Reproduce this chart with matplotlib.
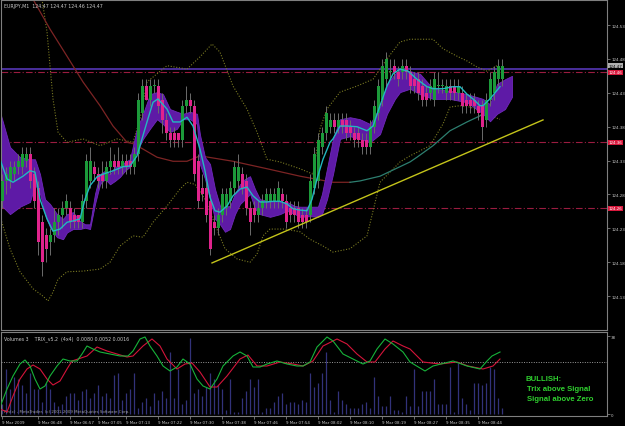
"""MetaTrader style EURJPY M1 chart with TRIX and volumes."""

import matplotlib

matplotlib.use("Agg")
import matplotlib.pyplot as plt

BASE = 124.0  # prices below are pips above 124.00

# candles, one per minute
opens = [27, 30, 30, 31, 32, 32, 33, 34, 31, 29, 24, 22, 21, 22, 24, 25, 26, 26, 25, 25,
         24, 27, 30, 32, 31, 31, 30, 32, 33, 33, 32, 33, 33, 32, 34, 40, 44, 42, 44, 44,
         42, 39, 37, 37, 37, 36, 41, 42, 41, 33, 29, 29, 27, 24, 23, 25, 26, 27, 29, 30,
         31, 30, 26, 26, 25, 26, 27, 27, 27, 27, 28, 27, 26, 26, 26, 25, 25, 25, 29, 30,
         35, 37, 38, 39, 38, 39, 39, 38, 37, 37, 36, 36, 35, 38, 40, 42, 45, 46, 47, 46,
         46, 47, 46, 45, 45, 44, 43, 43, 42, 44, 44, 43, 44, 44, 43, 43, 42, 42, 42, 41,
         41, 39, 42, 43, 45, 45]
highs = [31, 32, 33, 33, 34, 35, 35, 35, 32, 30, 25, 23, 23, 26, 26, 27, 28, 27, 26, 25,
         28, 34, 35, 33, 32, 33, 33, 35, 34, 35, 34, 34, 34, 35, 43, 45, 45, 45, 45, 45,
         43, 40, 38, 38, 37, 42, 44, 43, 42, 34, 31, 30, 28, 25, 26, 29, 29, 30, 33, 34,
         32, 31, 27, 27, 27, 28, 29, 29, 29, 30, 29, 28, 27, 27, 27, 26, 26, 31, 35, 37,
         38, 41, 40, 40, 40, 40, 40, 39, 38, 38, 37, 37, 39, 42, 45, 48, 49, 48, 48, 47,
         48, 48, 47, 46, 46, 45, 44, 45, 46, 46, 45, 45, 45, 45, 45, 44, 43, 43, 43, 42,
         42, 43, 46, 47, 48, 48]
lows = [26, 28, 29, 30, 31, 31, 32, 29, 26, 19, 16, 18, 19, 21, 22, 23, 25, 23, 23, 23,
        23, 26, 29, 30, 29, 29, 29, 31, 31, 31, 31, 31, 31, 31, 33, 39, 42, 41, 43, 40,
        37, 36, 35, 35, 35, 35, 40, 40, 30, 26, 27, 24, 19, 22, 22, 24, 25, 26, 28, 29,
        28, 25, 22, 24, 24, 25, 26, 26, 26, 26, 26, 23, 24, 24, 23, 23, 23, 24, 28, 29,
        34, 36, 37, 37, 37, 37, 36, 36, 35, 35, 34, 34, 34, 37, 39, 41, 44, 45, 45, 44,
        45, 45, 43, 43, 42, 41, 41, 42, 41, 43, 43, 42, 42, 42, 42, 40, 40, 40, 40, 39,
        36, 38, 41, 42, 44, 44]
closes = [30, 31, 32, 32, 33, 34, 34, 30, 27, 21, 18, 20, 22, 24, 25, 26, 27, 24, 24, 24,
          27, 33, 33, 31, 30, 30, 32, 33, 32, 32, 33, 32, 32, 34, 42, 44, 42, 44, 44, 41,
          39, 37, 36, 36, 36, 41, 42, 41, 31, 27, 28, 25, 20, 23, 25, 28, 28, 29, 32, 32,
          29, 26, 24, 25, 26, 27, 28, 28, 28, 29, 27, 24, 25, 25, 24, 24, 24, 30, 34, 36,
          37, 40, 39, 38, 39, 38, 37, 37, 36, 36, 35, 35, 38, 41, 44, 47, 48, 46, 46, 45,
          47, 46, 44, 44, 43, 42, 42, 44, 45, 44, 44, 44, 43, 43, 44, 41, 41, 41, 41, 40,
          38, 42, 45, 46, 47, 47]
volumes = [5, 22, 12, 18, 17, 14, 10, 20, 12, 12, 6, 15, 12, 6, 4, 5, 9, 10, 10, 7,
           11, 12, 8, 10, 14, 9, 10, 8, 19, 20, 7, 10, 12, 20, 3, 6, 8, 4, 10, 7,
           11, 8, 30, 8, 22, 5, 7, 37, 10, 12, 9, 13, 20, 17, 14, 12, 2, 17, 1, 1,
           8, 11, 17, 13, 17, 1, 3, 3, 6, 9, 10, 5, 6, 6, 5, 7, 6, 20, 13, 15,
           20, 30, 7, 1, 11, 7, 5, 3, 3, 3, 5, 6, 3, 18, 9, 4, 4, 9, 2, 2,
           1, 9, 4, 22, 4, 11, 11, 11, 17, 5, 5, 5, 23, 1, 25, 8, 5, 2, 15, 15,
           14, 15, 23, 22, 8, 3]

# fast moving average (cyan)
fast_bar = [-0.5, 1.25, 2.75, 5.25, 7, 8.25, 9.5, 11.25, 12.75, 14.5, 16.25, 17.75, 19.5,
            20.75, 22, 23.75, 25.25, 27.75, 30.25, 32, 33.75, 34.5, 36.25, 37.75, 39,
            41.25, 42.75, 44.5, 46.25, 47.75, 49.5, 50.75, 52, 53.25, 54.5, 56.25, 57.75,
            59.5, 61.25, 62.75, 64.5, 66.25, 67.75, 69.5, 71.25, 72.75, 74.5, 76.25, 77.5,
            78.75, 80.25, 82, 82.75, 84.5, 86.25, 88.75, 91.25, 92.75, 94.5, 96.25, 97.75,
            99.5, 101.5, 103.75, 106.25, 107.75, 110.25, 112.75, 114.5, 116.25, 117.75,
            119.5, 120.25, 122, 124.5]
fast_pip = [33.2, 30.3, 29.8, 30.7, 31.5, 31.3, 27.3, 24.4, 22.6, 22.9, 23.9, 24.1, 24.4,
            27.3, 29.3, 30.6, 31.0, 31.5, 32.1, 32.2, 33.7, 35.2, 38.7, 41.6, 42.1,
            40.6, 38.7, 38.7, 39.4, 38.1, 34.7, 31.5, 27.6, 25.6, 25.4, 26.3, 27.8,
            28.8, 29.1, 27.8, 26.9, 26.9, 27.0, 27.0, 26.6, 25.9, 25.7, 25.6, 27.3,
            30.3, 33.2, 35.7, 36.2, 38.1, 38.1, 38.0, 37.4, 38.1, 41.1, 44.0, 45.8,
            46.5, 46.2, 45.0, 43.9, 43.6, 43.6, 43.9, 43.9, 42.8, 42.1,
            41.1, 41.1, 42.1, 43.9]

# shifted purple band
band_bar = [-0.5, 2, 4.5, 7, 8.25, 9.5, 10.75, 12, 13.75, 15.25, 16.25, 17.75, 19.5, 20.75,
            22, 23.25, 24.5, 25.75, 27, 28.25, 29.5, 30.75, 32, 32.75, 33.75, 35.25, 37,
            38.75, 40.25, 42, 43.75, 45.25, 47, 48.75, 49.5, 50.75, 52, 53.25, 54.5, 55.75,
            57, 58.25, 59.5, 60.75, 62, 63.25, 64.5, 67, 69.5, 71.25, 73.25, 74.5, 77, 79,
            80, 81.25, 82.75, 84.5, 87, 89.5, 92, 94.5, 96.25, 98.25, 99.5, 102, 104.5,
            107.75, 112, 116.25, 120.25, 122, 123.75, 125.75, 127.5]
band_top = [40.2, 35.0, 33.5, 33.2, 33.2, 31.0, 27.3, 26.6, 25.1, 24.4, 25.1, 25.4, 24.1, 23.6,
            23.6, 28.1, 31.0, 31.5, 31.0, 32.1, 32.2, 32.8, 33.2, 35.2, 37.7, 39.9, 42.8,
            43.1, 42.8, 40.6, 40.2, 39.9, 40.2, 39.9, 36.8, 33.5, 32.5, 28.8, 26.3, 26.2,
            26.3, 28.1, 29.5, 30.3, 30.7, 28.8, 27.3, 27.0, 26.9, 26.9, 26.3, 26.2, 26.2, 26.2,
            28.1, 31.8, 36.2, 39.1, 39.4, 39.1, 38.4, 40.9, 44.3, 45.8, 46.5, 46.2, 45.8,
            43.6, 43.3, 42.8, 42.1, 41.3, 44.3, 45.0, 45.5]
band_bot = [26.6, 25.1, 26.2, 26.9, 29.5, 28.1, 25.1, 23.2, 21.7, 21.4, 22.4, 22.9, 22.9, 23.1,
            22.9, 26.6, 29.5, 30.3, 29.5, 30.0, 30.6, 31.5, 32.1, 33.2, 34.4, 36.2, 37.7,
            39.1, 38.4, 37.2, 37.7, 39.1, 39.1, 38.4, 32.4, 30.3, 27.3, 24.4, 23.6, 22.5,
            22.9, 25.1, 26.6, 27.3, 28.1, 25.9, 25.1, 24.7, 25.1, 25.6, 25.1, 24.7, 24.8, 24.7,
            25.1, 27.3, 31.0, 36.2, 36.6, 36.2, 35.7, 36.9, 39.9, 42.1, 43.1, 43.6, 42.8,
            42.1, 42.1, 41.6, 39.9, 38.8, 39.9, 40.6, 42.4]

# bollinger bands (dotted)
upper_bar = [10, 11.25, 12, 12.75, 14, 16.25, 20.25, 24.5, 28.75, 32.75, 34.5, 36.25, 41.25,
             46.25, 49.5, 52.5, 54.5, 57.75, 61.25, 63.75, 65, 66.25, 69.5, 74.5, 77.75,
             79.5, 81.25, 84.5, 88.75, 92.75, 96.25, 99.5, 102, 107.75, 110.25, 113.75,
             116.25, 118.75, 121.25, 123.75]
upper_pip = [56.8, 52.0, 47.0, 42.1, 37.2, 35.7, 36.2, 35.2, 36.2, 35.7, 39.1, 44.6, 47.0,
             46.5, 48.3, 50.2, 49.0, 44.0, 40.6, 37.2, 35.2, 33.2, 32.8, 31.8, 31.0,
             37.7, 40.6, 43.1, 44.0, 45.0, 48.0, 50.5, 50.9, 50.9, 49.5, 48.4,
             47.7, 46.8, 46.2, 47.0]
lower_bar = [-0.5, 2, 4.5, 7.75, 10.25, 11.5, 12.75, 14, 16.25, 20.25, 24.5, 27, 29.5, 32.75,
             35.25, 37.75, 41.25, 44.5, 46.25, 48.25, 50.75, 53.25, 55.75, 58.75, 62, 63.75,
             65.25, 67, 70.75, 74.5, 77, 80.25, 82.75, 87, 91.25, 94.5, 99.5, 102, 107,
             110.25, 112, 114.5, 117, 119.5, 122, 124.5]
lower_pip = [24.8, 20.0, 16.6, 14.1, 13.0, 12.3, 13.6, 15.5, 16.6, 16.7, 17.0, 18.0, 20.4, 21.9,
             21.7, 23.9, 26.3, 28.8, 29.8, 29.5, 27.3, 23.6, 20.0, 18.5, 18.0, 19.2,
             21.9, 22.9, 22.9, 22.5, 21.4, 20.4, 19.5, 20.0, 21.9, 29.8, 32.8, 33.7, 35.2,
             38.4, 40.9, 41.1, 40.9, 40.3, 39.6, 39.1]

# slow moving average, brown while falling, teal once rising
slow_bar = [7.75, 12, 16.25, 20.25, 24.5, 27.75, 31.25, 32.75, 35.25, 38.75, 42.75, 46.25,
            49.5, 57.75, 66.25, 74.5, 82.75, 87, 89.5, 94.5, 99.5, 102, 103.75, 107.75,
            112, 116.25, 119.5, 124.5]
slow_pip = [56.8, 52.4, 48.4, 44.6, 41.1, 38.1, 35.7, 35.5, 34.7, 33.5, 32.9, 32.9,
            33.7, 32.9, 31.8, 30.7, 29.8, 29.8, 30.0, 30.7, 32.1, 32.8, 33.5, 35.2,
            37.4, 38.7, 39.6, 42.1]
slow_turn = 87  # bar where the colour changes

# trend line and price levels
trend_bar = [52.5, 135.25]
trend_pip = [17.9, 39.0]
level_prices = [124.46, 124.357, 124.26]
bid_price = 124.465

# TRIX (x1000) and signal
trix_bar = [-0.5, 1.25, 2.75, 4.5, 5.75, 7, 8.25, 9.5, 10.75, 12, 13.75, 15.25, 17, 18.75, 20,
            21.25, 22.75, 24.5, 27, 29.5, 31.5, 32.75, 34.5, 35.75, 37, 38.75, 40.25, 42,
            43.75, 45.25, 47, 48.75, 50.25, 52, 53.75, 55.25, 57.75, 59.5, 61.25, 62.75,
            64.5, 66.25, 68.75, 71.25, 73.75, 75.25, 77, 78.75, 81.25, 82.75, 85.25, 87.75,
            90.25, 92, 93.75, 95.75, 97.75, 100.25, 102, 105.75, 107.75, 112.75, 116.25,
            119.5, 121.25, 122.5, 124.5]
trix_val = [-36, -21.6, -11.2, -1.6, 1.6, -3.2, -13.6, -21.6, -19.2, -11.2, -3.2, 2.4, 0.8,
            0.8, 6.4, 12.8, 10.4, 8, 6.4, 4.8, 4.8, 8.8, 18.4, 20, 12.8, 4.8, -3.2, -7.2,
            -4, 2.4, -1.6, -13.6, -19.2, -21.6, -13.6, -3.2, 4.8, 8, 4.8, -4,
            -4, -1.6, 0.8, -1.6, -3.2, -3.2, 0, 12, 20, 16.8, 6.4, 2.4,
            -1.6, 0.8, 10.4, 18.4, 14.4, 8, 0, -7.2, -3.2, 0.8, -3.2,
            -5.6, 0.8, 4.8, 8]
signal_bar = [-0.5, 1.25, 2.75, 4.5, 6.25, 7.75, 9.5, 11.25, 12.75, 14.5, 16.25, 17.5, 19,
              21.25, 23.75, 26.25, 28.75, 31.25, 32.75, 35.25, 37.5, 39.5, 41.25, 43.75,
              45.75, 47.5, 49.5, 52, 53.75, 56.25, 59.5, 61.5, 63.75, 66.25, 69.5, 72.75,
              75.25, 77.75, 80.25, 83.75, 86.25, 88.75, 91.25, 93.25, 95.75, 97.75, 100.25,
              102, 105.25, 109.5, 113.75, 116.5, 120.25, 122.75, 124.5]
signal_val = [-37.6, -40, -27.2, -13.6, -5.6, -2.4, -5.6, -13.6, -18.4, -15.2, -5.6, 0.8, 2.4,
              4.8, 12, 8.8, 6.4, 4, 4.8, 12.8, 18.4, 12.8, 2.4, -5.6,
              -1.6, -0.8, -8, -20, -20, -11.2, 2.4, 5.6, -3.2, -3.2, 0, -1.6,
              -3.2, 0.8, 12.8, 18.4, 14.4, 6.4, 0, 0, 10.4, 16.8, 12.8,
              10.4, 0, -1.6, 0, -3.2, -5.6, -3.2, 2.4]

axis_prices = [124.53, 124.48, 124.43, 124.38, 124.33, 124.28, 124.23, 124.18, 124.13]
time_bars = [0, 9, 17, 24, 31, 39, 47, 55, 63, 71, 79, 87, 95, 103, 111, 119]
time_labels = ["9 Mar 2009", "9 Mar 06:48", "9 Mar 06:57", "9 Mar 07:05", "9 Mar 07:13",
               "9 Mar 07:22", "9 Mar 07:30", "9 Mar 07:38", "9 Mar 07:46", "9 Mar 07:54",
               "9 Mar 08:02", "9 Mar 08:10", "9 Mar 08:19", "9 Mar 08:27", "9 Mar 08:35",
               "9 Mar 08:44"]

W, H = 625, 427
GRID = "#7f7f7f"
TXT = "#c8c8c8"
SMALL = 3.4
TINY = 2.9


def px_rect(x0, y0, x1, y1):
    return [x0 / W, 1 - y1 / H, (x1 - x0) / W, (y1 - y0) / H]


def price(pips):
    return [BASE + p / 100 for p in pips]


def style_panel(ax):
    ax.set_facecolor("black")
    for side in ax.spines.values():
        side.set_color(GRID)
        side.set_linewidth(0.8)
    ax.tick_params(colors=GRID, labelcolor=TXT, labelsize=TINY, length=2, width=0.6, pad=1)


fig = plt.figure(figsize=(W / 100, H / 100), dpi=100)
fig.patch.set_facecolor("black")

ax = fig.add_axes(px_rect(1, 1, 607, 331))
style_panel(ax)
ax.set_xlim(-0.25, 151.25)
ax.set_ylim(124.0801, 124.5669)

bars = list(range(len(closes)))

# price levels
ax.axhline(bid_price, color="#4f32a8", lw=1.3, zorder=1)
for lvl in level_prices:
    ax.axhline(lvl, color="#9a1c40", lw=0.8, dashes=(6, 2, 1, 2), zorder=1)

# bollinger bands and slow average
ax.plot(upper_bar, price(upper_pip), color="#7a7a22", lw=0.8, ls=(0, (1, 1.5)), zorder=1)
ax.plot(lower_bar, price(lower_pip), color="#7a7a22", lw=0.8, ls=(0, (1, 1.5)), zorder=1)
cut = next(i for i, b in enumerate(slow_bar) if b >= slow_turn)
ax.plot(slow_bar[:cut + 1], price(slow_pip[:cut + 1]), color="#7c2424", lw=0.9, zorder=1)
ax.plot(slow_bar[cut:], price(slow_pip[cut:]), color="#2d7f70", lw=0.9, zorder=1)

# purple band
ax.fill_between(band_bar, price(band_bot), price(band_top), color="#5e1aa6", lw=0.6,
                edgecolor="#7028bc", zorder=2)

# candles
ax.vlines(bars, price(lows), price(highs), color="#6c6c6c", lw=0.7, zorder=3)
for i in bars:
    o, c = opens[i], closes[i]
    col = "#1c9a3a" if c >= o else "#e0238c"
    lo = BASE + min(o, c) / 100
    hgt = max(abs(c - o) / 100, 0.0016)
    ax.bar(i, hgt, bottom=lo, width=0.75, color=col, lw=0, zorder=4)

ax.plot(fast_bar, price(fast_pip), color="#22b8c0", lw=1.0, zorder=5)
ax.plot(trend_bar, price(trend_pip), color="#c4c41a", lw=1.0, zorder=5)

ax.set_xticks([])
ax.yaxis.tick_right()
ax.set_yticks(axis_prices)
ax.set_yticklabels([f"{p:.2f}" for p in axis_prices])

# price boxes on the right scale
tag = dict(transform=ax.get_yaxis_transform(), fontsize=TINY, va="center", ha="left",
           clip_on=False, zorder=6)
ax.text(1.003, 124.47, "124.47", color="black",
        bbox=dict(boxstyle="square,pad=0.12", fc="#b0b0b0", ec="none"), **tag)
for lvl in level_prices:
    ax.text(1.003, lvl, f"{round(lvl, 2):.2f}", color="white",
            bbox=dict(boxstyle="square,pad=0.12", fc="#d8183c", ec="none"), **tag)

ax.text(0.005, 0.992, "EURJPY,M1  124.47 124.47 124.46 124.47", transform=ax.transAxes,
        fontsize=SMALL, color=TXT, va="top", ha="left")

# lower window: volumes + TRIX
axv = fig.add_axes(px_rect(1, 333, 607, 417))
style_panel(axv)
axv.set_xlim(-0.25, 151.25)
axv.set_ylim(-0.974, 39.95)
axv.vlines(bars, 0, volumes, color="#32327a", lw=0.9)

axt = axv.twinx()
axt.set_ylim(-43.2, 24)
axt.axis("off")
axt.axhline(0, color="#9a9a9a", lw=0.7, ls=(0, (1, 1.5)))
axt.plot(signal_bar, signal_val, color="#d4143a", lw=0.8)
axt.plot(trix_bar, trix_val, color="#17b33a", lw=0.8)

# twinx moves the host ticks to the left, put the volume scale back on the right
axv.yaxis.tick_right()
axv.set_yticks([0, 38])
axv.set_xticks(time_bars)
axv.set_xticklabels(time_labels, ha="left")
axv.tick_params(axis="x", length=2, pad=1)

axv.text(0.005, 0.96, "Volumes 3    TRIX_v5.2  (4x4)  0.0080 0.0052 0.0016",
         transform=axv.transAxes, fontsize=SMALL, color=TXT, va="top", ha="left")
axv.text(0.005, 0.03, "Pin(c) - MetaTrader, (c) 2001-2009 MetaQuotes Software Corp.",
         transform=axv.transAxes, fontsize=TINY, color="#9a9a9a", va="bottom", ha="left")

for text, yy, xx in [("BULLISH:", 380, 525), ("Trix above Signal", 390, 527),
                     ("Signal above Zero", 400, 527)]:
    fig.text(xx / W, 1 - yy / H, text, color="#2fcf2f", fontsize=5.6, fontweight="bold",
             family="Liberation Sans", va="center", ha="left")

fig.savefig("out.png", dpi=100, facecolor="black")
